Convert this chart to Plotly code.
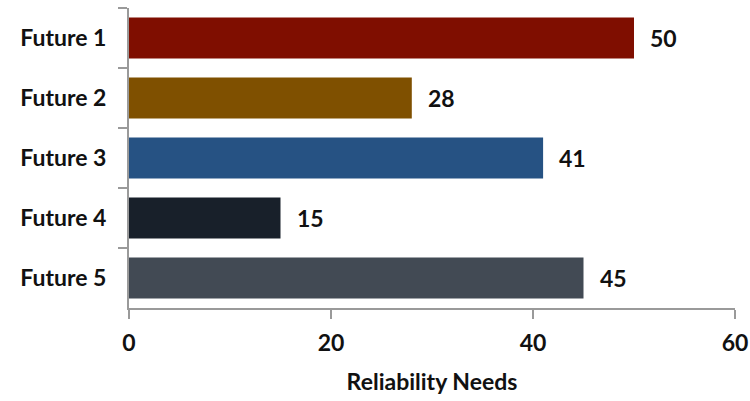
import plotly.graph_objects as go

categories = ["Future 1", "Future 2", "Future 3", "Future 4", "Future 5"]
values = [50, 28, 41, 15, 45]
colors = ["#7F0E00", "#7F5000", "#265283", "#18202A", "#424A54"]
x_ticks = [0, 20, 40, 60]
x_title = "Reliability Needs"

FONT = "Lato, 'Open Sans', sans-serif"
FS = 23

fig = go.Figure()
fig.add_trace(go.Bar(
    x=values, y=categories, orientation="h",
    marker=dict(color=colors, line=dict(width=0)),
    width=0.68, hoverinfo="skip",
))

for c, v in zip(categories, values):
    fig.add_annotation(x=v, y=c, text=f"<b>{v}</b>", showarrow=False,
                       xanchor="left", xshift=14,
                       font=dict(family=FONT, size=FS, color="#111"))

axis_col = "#9a9a9a"
fig.update_layout(
    width=750, height=401,
    margin=dict(l=129, r=15, t=8, b=93, autoexpand=False),
    paper_bgcolor="white", plot_bgcolor="white",
    showlegend=False,
    bargap=0.32,
    font=dict(family=FONT, color="#111"),
    xaxis=dict(range=[0, 60], tickvals=x_ticks, showgrid=False, zeroline=False,
               automargin=False,
               showline=True, linecolor=axis_col, linewidth=2,
               ticks="outside", ticklen=9, tickwidth=2, tickcolor=axis_col,
               ticklabelstandoff=4,
               tickfont=dict(family=FONT, size=FS, color="#111", weight="bold"),
               title=dict(text=f"<b>{x_title}</b>", standoff=19,
                          font=dict(family=FONT, size=FS, color="#111"))),
    yaxis=dict(categoryorder="array", categoryarray=categories, autorange="reversed",
               showgrid=False, zeroline=False, automargin=False,
               showline=True, linecolor=axis_col, linewidth=2,
               ticks="outside", ticklen=9, tickwidth=2, tickcolor=axis_col,
               tickson="boundaries", ticklabelstandoff=16,
               tickfont=dict(family=FONT, size=FS, color="#111", weight="bold")),
)

fig.write_html("out.html")
